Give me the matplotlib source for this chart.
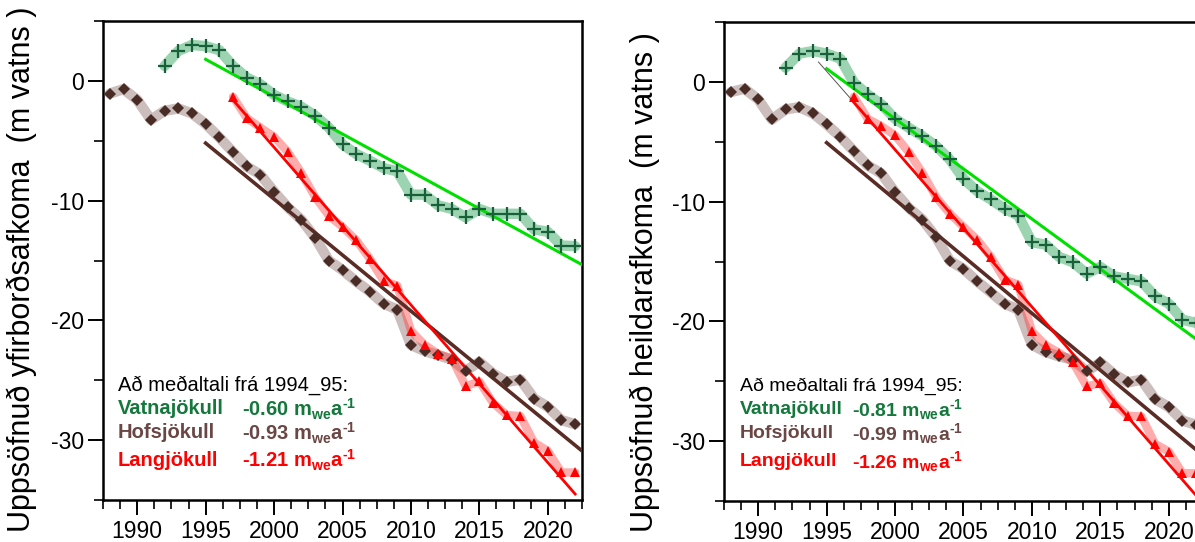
import numpy as np
import matplotlib
matplotlib.use("Agg")
import matplotlib.pyplot as plt
from matplotlib.ticker import MultipleLocator

plt.rcParams['font.family'] = ['Liberation Sans', 'DejaVu Sans']
plt.rcParams['axes.unicode_minus'] = False
plt.rcParams['mathtext.fontset'] = 'custom'
plt.rcParams['mathtext.rm'] = 'Liberation Sans:bold'
plt.rcParams['mathtext.bf'] = 'Liberation Sans:bold'

# ---- data: cumulative mass balance (m water equivalent) ----
years_vat = np.arange(1992, 2023)
years_hof = np.arange(1988, 2023)
years_lan = np.arange(1997, 2023)

# surface mass balance (yfirborðsafkoma)
vat_surface = [1.25, 2.5, 3.0, 2.9, 2.56, 1.25, 0.28, -0.28, -1.17, -1.72,
               -2.17, -2.9, -3.9, -5.3, -6.1, -6.67, -7.28, -7.55, -9.5, -9.5,
               -10.4, -10.7, -11.4, -10.7, -11.1, -11.1, -11.1, -12.4, -12.6,
               -13.75, -13.8]
hof_surface = [-1.06, -0.69, -1.58, -3.25, -2.5, -2.3, -2.72, -3.6, -4.72,
               -5.95, -7.14, -7.83, -9.25, -10.56, -11.6, -13.1, -15.0, -15.8,
               -16.75, -17.6, -18.6, -19.1, -22.05, -22.56, -22.92, -23.28,
               -24.22, -23.47, -24.44, -25.14, -24.94, -26.53, -27.22, -28.33,
               -28.67]
lan_surface = [-1.33, -3.1, -3.9, -4.67, -5.93, -7.7, -9.7, -11.25, -12.2,
               -13.3, -14.86, -16.7, -17.1, -20.85, -22.05, -22.8, -23.2,
               -25.5, -25.1, -26.9, -27.9, -28.0, -30.2, -30.9, -32.7, -32.7]

# total mass balance (heildarafkoma)
vat_total = [1.19, 2.36, 2.58, 2.36, 1.94, -0.07, -1.05, -1.88, -3.08, -3.83,
             -4.53, -5.36, -6.48, -8.09, -9.13, -9.82, -10.6, -11.16, -13.39,
             -13.59, -14.62, -15.07, -16.01, -15.45, -16.24, -16.45, -16.66,
             -17.91, -18.52, -19.86, -20.13]
hof_total = [-0.85, -0.57, -1.46, -3.14, -2.3, -2.11, -2.63, -3.55, -4.58,
             -5.79, -6.98, -7.65, -9.21, -10.52, -11.5, -12.98, -14.94, -15.62,
             -16.66, -17.58, -18.52, -19.02, -21.95, -22.56, -22.93, -23.2,
             -24.18, -23.43, -24.4, -25.1, -24.87, -26.49, -27.16, -28.28,
             -28.64]
lan_total = [-1.24, -3.08, -3.7, -4.47, -5.87, -7.6, -9.62, -11.0, -12.11,
             -13.17, -14.62, -16.51, -16.93, -20.84, -21.99, -22.64, -23.43,
             -25.43, -25.15, -26.82, -27.88, -27.94, -30.23, -30.87, -32.68,
             -32.68]

# linear trend lines (start/end year and value)
trend_surface = {
    "vat": ([1995, 2022.5], [1.8, -15.35]),
    "hof": ([1995, 2022.5], [-5.2, -30.9]),
    "lan": ([1997, 2022], [-1.6, -34.5]),
}
trend_total = {
    "vat": ([1995, 2022.5], [1.1, -21.9]),
    "hof": ([1995, 2022.5], [-5.08, -31.2]),
    "lan": ([1996.8, 2022.5], [-1.46, -35.2]),
}
link_total = ([1994.4, 1996.8], [1.66, -1.46])

glaciers = ["Vatnajökull", "Hofsjökull", "Langjökull"]
rates_surface = [-0.60, -0.93, -1.21]
rates_total = [-0.81, -0.99, -1.26]

xticks = [1990, 1995, 2000, 2005, 2010, 2015, 2020]
yticks = [0, -10, -20, -30]

# ---- styles ----
band = {"vat": ("#3aa862", 0.50, 7.5),
        "hof": ("#866460", 0.42, 7.5),
        "lan": ("#ff3a3a", 0.42, 6.0)}
trend_col = {"vat": "#00e000", "hof": "#5a2c26", "lan": "#ff0000"}
trend_lw = {"vat": 2.2, "hof": 2.6, "lan": 2.0}
text_col = ["#14783c", "#6a4644", "#ff0000"]

W, H = 1195, 542
fig = plt.figure(figsize=(W / 100, H / 100), dpi=100)
ax1 = fig.add_axes([103 / W, 42 / H, 479 / W, 479 / H])
ax2 = fig.add_axes([724 / W, 41 / H, 479 / W, 479 / H])


def draw_panel(ax, vat, hof, lan, trends, rates, txt_x, val_x, fs_txt):
    series = {"vat": (years_vat, vat), "hof": (years_hof, hof),
              "lan": (years_lan, lan)}
    for key, (x, y) in series.items():
        c, a, lw = band[key]
        ax.plot(x, y, color=c, alpha=a, lw=lw, solid_joinstyle="round",
                solid_capstyle="round", zorder=1)
    for key in ["hof", "lan", "vat"]:
        tx, ty = trends[key]
        ax.plot(tx, ty, color=trend_col[key], lw=trend_lw[key], zorder=3)
    ax.plot(years_vat, vat, ls="none", marker="+", ms=10.5, mew=1.6,
            color="#17603a", zorder=4)
    ax.plot(years_hof, hof, ls="none", marker="D", ms=5.8, mew=0,
            color="#4a2c26", zorder=4)
    ax.plot(years_lan, lan, ls="none", marker="^", ms=7.5, mew=0,
            color="#ff0000", zorder=4)

    ax.set_xlim(1987.5, 2022.5)
    ax.set_ylim(-35, 5)
    ax.set_xticks(xticks)
    ax.set_yticks(yticks)
    ax.xaxis.set_minor_locator(MultipleLocator(1.25))
    ax.yaxis.set_minor_locator(MultipleLocator(5))
    ax.tick_params(which="major", direction="out", length=11, width=1.4,
                   labelsize=16.5, pad=2.5, top=False, right=False)
    ax.tick_params(axis="x", which="major", pad=3.5)
    ax.tick_params(which="minor", direction="out", length=6.5, width=1.2,
                   top=False, right=False)
    for sp in ax.spines.values():
        sp.set_linewidth(1.8)

    ys = [0.239, 0.190, 0.140, 0.083]
    ax.text(txt_x, ys[0], "Að meðaltali frá 1994_95:", transform=ax.transAxes,
            fontsize=fs_txt, va="center", ha="left", zorder=5)
    for i, name in enumerate(glaciers):
        ax.text(txt_x, ys[i + 1], name, transform=ax.transAxes,
                fontsize=fs_txt, fontweight="bold", color=text_col[i],
                va="center", ha="left", zorder=5)
        ax.text(val_x, ys[i + 1],
                f"{rates[i]:.2f} " + r"$\mathbf{m_{we}a^{\text{-}1}}$",
                transform=ax.transAxes, fontsize=fs_txt, fontweight="bold",
                color=text_col[i], va="center", ha="left", zorder=5)


draw_panel(ax1, vat_surface, hof_surface, lan_surface, trend_surface,
           rates_surface, 0.031, 0.29, 14.5)
draw_panel(ax2, vat_total, hof_total, lan_total, trend_total,
           rates_total, 0.033, 0.268, 14)
ax2.plot(link_total[0], link_total[1], color="#555555", lw=0.7, zorder=3)

fig.text(22 / W, 10 / H, "Uppsöfnuð yfirborðsafkoma  (m vatns )",
         rotation=90, ha="center", va="bottom", fontsize=22)
fig.text(645 / W, 10 / H, "Uppsöfnuð heildarafkoma  (m vatns )",
         rotation=90, ha="center", va="bottom", fontsize=22)

fig.savefig("out.png", dpi=100)
